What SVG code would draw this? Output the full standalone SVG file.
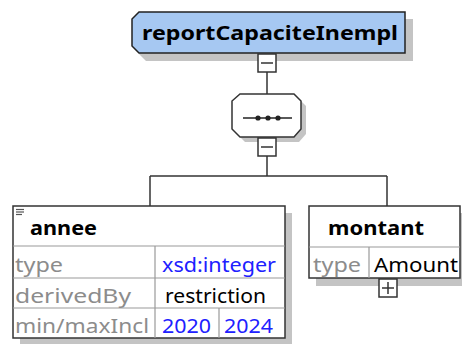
<svg xmlns="http://www.w3.org/2000/svg" width="462" height="344" viewBox="0 0 462 344">
<style>
.ln{stroke:#333;stroke-width:1.5;fill:none}
.box{fill:#fff;stroke:#333;stroke-width:1.5}
.sh{fill:#c4c4c4}
.grid{stroke:#999;stroke-width:1.2;fill:none}
.t{font-family:"Noto Sans","Open Sans",sans-serif;font-size:20px}
.b{font-family:"Noto Sans","Open Sans",sans-serif;font-size:20px;font-weight:bold;fill:#000}
.g{fill:#8c8c8c}
.v{fill:#2020ff}
.k{fill:#000}
</style>
<g id="connectors">
<line class="ln" x1="267" y1="72" x2="267" y2="94"/>
<line class="ln" x1="267" y1="156" x2="267" y2="176"/>
<line class="ln" x1="150" y1="176" x2="387" y2="176"/>
<line class="ln" x1="150" y1="176" x2="150" y2="206"/>
<line class="ln" x1="387" y1="176" x2="387" y2="206"/>
</g>
<g id="reportCapaciteInempl">
<polygon class="sh" points="146,19 413,19 413,61 146,61 139,54 139,26"/>
<polygon points="139,12 405,12 405,53 139,53 132,46 132,19" fill="#a6c8f2" stroke="#222" stroke-width="1.5"/>
<text class="b" x="142" y="40" textLength="256" lengthAdjust="spacingAndGlyphs">reportCapaciteInempl</text>
<rect class="box" x="258" y="54" width="18" height="18"/>
<line class="ln" x1="261" y1="63" x2="273" y2="63"/>
</g>
<g id="sequence">
<polygon class="sh" points="245,99 299,99 306,106 306,134 299,142 245,142 237,134 237,106"/>
<polygon class="box" points="240,94 294,94 301,101 301,129 294,137 240,137 232,129 232,101"/>
<line x1="243" y1="118" x2="292" y2="118" stroke="#222" stroke-width="1.5"/>
<circle cx="258" cy="118" r="2.6" fill="#222"/>
<circle cx="268" cy="118" r="2.6" fill="#222"/>
<circle cx="278" cy="118" r="2.6" fill="#222"/>
<rect class="box" x="258" y="138" width="18" height="18"/>
<line class="ln" x1="261" y1="147" x2="273" y2="147"/>
</g>
<g id="annee">
<rect class="sh" x="20" y="213" width="272" height="131"/>
<rect class="box" x="13" y="206" width="272" height="132"/>
<line class="grid" x1="13" y1="246" x2="285" y2="246"/>
<line class="grid" x1="13" y1="278" x2="285" y2="278"/>
<line class="grid" x1="13" y1="308" x2="285" y2="308"/>
<line class="grid" x1="155" y1="246" x2="155" y2="338"/>
<line class="grid" x1="219" y1="308" x2="219" y2="338"/>
<g stroke="#555" stroke-width="1.2">
<line x1="16" y1="209.5" x2="24" y2="209.5"/>
<line x1="16" y1="212" x2="24" y2="212"/>
<line x1="16" y1="214.5" x2="22" y2="214.5"/>
</g>
<text class="b" x="30" y="235" textLength="67" lengthAdjust="spacingAndGlyphs">annee</text>
<text class="t g" x="15" y="272" textLength="48" lengthAdjust="spacingAndGlyphs">type</text>
<text class="t v" x="162" y="272" textLength="114" lengthAdjust="spacingAndGlyphs">xsd:integer</text>
<text class="t g" x="15" y="303" textLength="116" lengthAdjust="spacingAndGlyphs">derivedBy</text>
<text class="t k" x="165" y="303" textLength="101" lengthAdjust="spacingAndGlyphs">restriction</text>
<text class="t g" x="15" y="333" textLength="134" lengthAdjust="spacingAndGlyphs">min/maxIncl</text>
<text class="t v" x="162" y="333" textLength="49" lengthAdjust="spacingAndGlyphs">2020</text>
<text class="t v" x="224" y="333" textLength="49" lengthAdjust="spacingAndGlyphs">2024</text>
</g>
<g id="montant">
<rect class="sh" x="316" y="213" width="146" height="73"/>
<rect class="box" x="309" y="206" width="151" height="72"/>
<line class="grid" x1="309" y1="247" x2="460" y2="247"/>
<line class="grid" x1="369" y1="247" x2="369" y2="278"/>
<text class="b" x="328" y="235" textLength="96" lengthAdjust="spacingAndGlyphs">montant</text>
<text class="t g" x="313" y="272" textLength="48" lengthAdjust="spacingAndGlyphs">type</text>
<text class="t k" x="374" y="272" textLength="84" lengthAdjust="spacingAndGlyphs">Amount</text>
<rect class="box" x="379" y="279" width="18" height="18"/>
<line class="ln" x1="382" y1="288" x2="394" y2="288"/>
<line class="ln" x1="388" y1="282" x2="388" y2="294"/>
</g>
</svg>
